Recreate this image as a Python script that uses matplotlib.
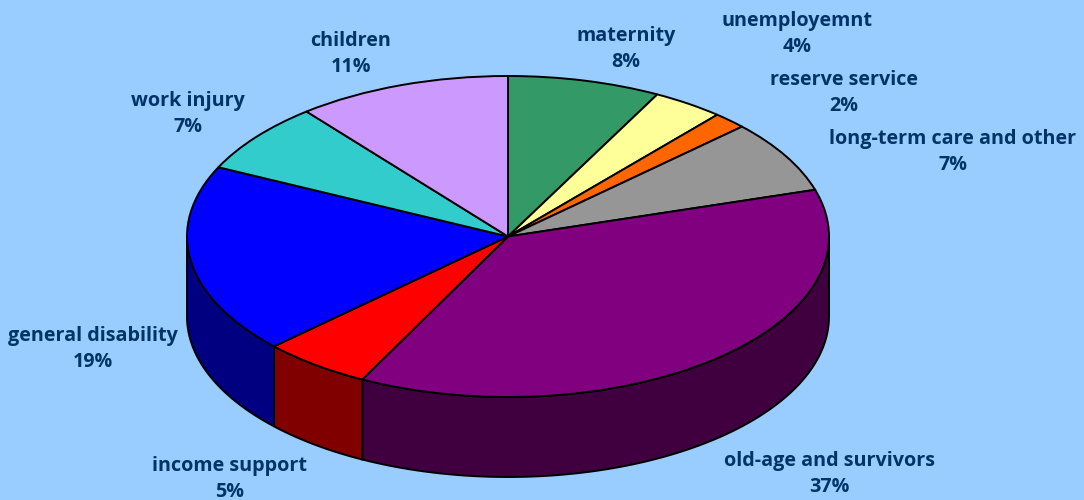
import numpy as np
import matplotlib
matplotlib.use("Agg")
import matplotlib.pyplot as plt
from matplotlib.patches import Polygon

# =========================
# DATA
# =========================
names = ["maternity", "unemployemnt", "reserve service", "long-term care and other",
         "old-age and survivors", "income support", "general disability",
         "work injury", "children"]
pct_labels = ["8%", "4%", "2%", "7%", "37%", "5%", "19%", "7%", "11%"]
# the printed labels are rounded
shares = [7.7, 3.6, 1.7, 7.3, 37.2, 5.5, 19.1, 7.1, 10.8]

top_colors = ["#339966", "#FFFF99", "#FF6600", "#969696", "#800080",
              "#FF0000", "#0000FF", "#33CCCC", "#CC99FF"]
side_colors = ["#1A4D33", "#80804D", "#803300", "#4B4B4B", "#400040",
               "#800000", "#000080", "#1A6666", "#664D80"]

# label centre in pixels
label_pos = [(626, 49), (797, 34), (844, 93), (953, 152),
             (829, 474), (230, 479), (93, 349), (188, 114), (351, 54)]

# =========================
# SETTINGS
# =========================
W, H = 1084, 500
CX, CY = 508, 236.5
RX, RY = 321, 160.5
DEPTH = 80 / RY
BG = "#99CCFF"
TXT = "#003366"
LW = 1.4

plt.rcParams["font.family"] = ["Open Sans", "DejaVu Sans"]

fig = plt.figure(figsize=(W / 100, H / 100), dpi=100, facecolor=BG)
ax = fig.add_axes([0, 0, 1, 1])
ax.set_facecolor(BG)

# =========================
# side wall, only the front half shows
# =========================
edges = np.cumsum([0] + shares) / sum(shares) * 360
for i in range(len(shares)):
    a0 = max(edges[i], 90)
    a1 = min(edges[i + 1], 270)
    if a1 <= a0:
        continue
    a = np.radians(np.linspace(a0, a1, 80))
    x = np.sin(a)
    y = np.cos(a)
    pts = np.column_stack([np.r_[x, x[::-1]], np.r_[y, y[::-1] - DEPTH]])
    ax.add_patch(Polygon(pts, closed=True, facecolor=side_colors[i],
                         edgecolor="black", linewidth=LW))

# =========================
# top face
# =========================
ax.pie(shares, colors=top_colors, startangle=90, counterclock=False,
       wedgeprops={"edgecolor": "black", "linewidth": LW})

ax.set_aspect("auto")
ax.set_xlim(-CX / RX, (W - CX) / RX)
ax.set_ylim(-(H - CY) / RY, CY / RY)
ax.axis("off")

for name, pct, (px, py) in zip(names, pct_labels, label_pos):
    ax.text(px / W, 1 - py / H, f"{name}\n{pct}", transform=ax.transAxes,
            ha="center", va="center", fontsize=14.2, fontweight="bold",
            color=TXT, linespacing=1.42)

fig.savefig("out.png", dpi=100, facecolor=BG)
